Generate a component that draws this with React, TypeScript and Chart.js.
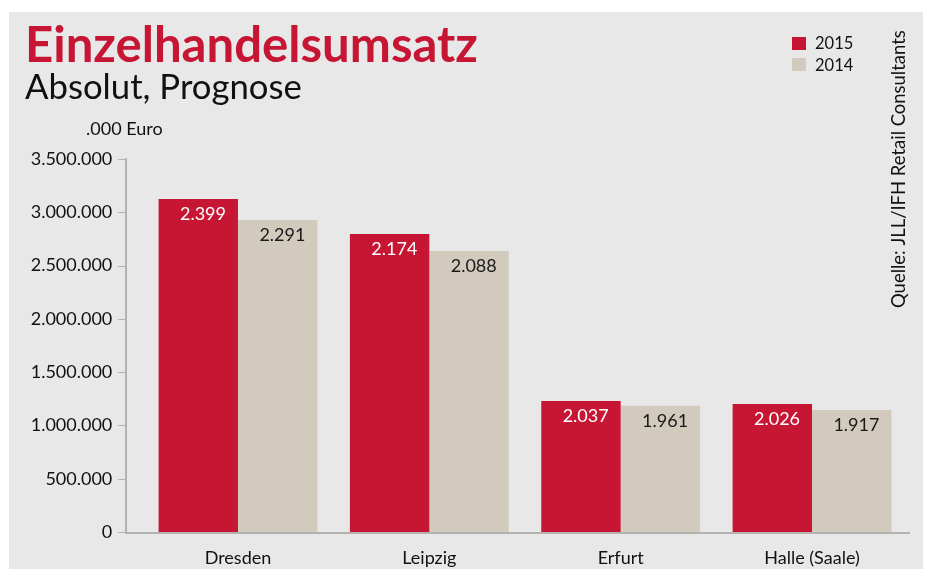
import React, { useEffect, useRef } from "react";
import { Chart, registerables } from "chart.js";

Chart.register(...registerables);

const categories = ["Dresden", "Leipzig", "Erfurt", "Halle (Saale)"];
const series2015 = [3125000, 2796000, 1229000, 1201000];
const series2014 = [2928000, 2637000, 1185000, 1145000];
const labels2015 = ["2.399", "2.174", "2.037", "2.026"];
const labels2014 = ["2.291", "2.088", "1.961", "1.917"];
const yTicks = [0, 500000, 1000000, 1500000, 2000000, 2500000, 3000000, 3500000];

const TITLE = "Einzelhandelsumsatz";
const SUBTITLE = "Absolut, Prognose";
const UNIT = ".000 Euro";
const SOURCE = "Quelle: JLL/IFH Retail Consultants";

const RED = "#C71534";
const BEIGE = "#D1CABD";
const BG = "#E8E8E8";
const AXIS = "#B2B2B2";
const FONT = "Lato";

function fmt(v: number): string {
  return String(v).replace(/\B(?=(\d{3})+(?!\d))/g, ".");
}

function fitFont(ctx: CanvasRenderingContext2D, text: string, weight: string, width: number) {
  ctx.font = `${weight} 100px ${FONT}`;
  const w = ctx.measureText(text).width;
  return (100 * width) / w;
}

const decorPlugin = {
  id: "decor",
  afterDraw(chart: any) {
    const ctx: CanvasRenderingContext2D = chart.ctx;
    const area = chart.chartArea;
    const y = chart.scales.y;
    ctx.save();
    // axes
    ctx.strokeStyle = AXIS;
    ctx.lineWidth = 2;
    ctx.beginPath();
    ctx.moveTo(117, y.getPixelForValue(3500000) - 1);
    ctx.lineTo(117, area.bottom + 2);
    ctx.stroke();
    ctx.beginPath();
    ctx.moveTo(116, area.bottom + 1);
    ctx.lineTo(901, area.bottom + 1);
    ctx.stroke();
    ctx.lineWidth = 1;
    yTicks.forEach((t) => {
      const py = Math.round(y.getPixelForValue(t)) + 0.5;
      ctx.beginPath();
      ctx.moveTo(109, py);
      ctx.lineTo(117, py);
      ctx.stroke();
    });

    // data labels
    ctx.font = `18px ${FONT}`;
    ctx.textAlign = "right";
    ctx.textBaseline = "alphabetic";
    const sets = [
      { idx: 0, labels: labels2015, color: "#FFFFFF" },
      { idx: 1, labels: labels2014, color: "#1A1A1A" },
    ];
    sets.forEach((s) => {
      const meta = chart.getDatasetMeta(s.idx);
      meta.data.forEach((bar: any, i: number) => {
        const right = bar.x + bar.width / 2;
        ctx.fillStyle = s.color;
        ctx.fillText(s.labels[i], right - 12, bar.y + 21);
      });
    });

    // title and subtitle
    ctx.textAlign = "left";
    ctx.fillStyle = RED;
    let fs = fitFont(ctx, TITLE, "bold", 453);
    ctx.font = `bold ${fs}px ${FONT}`;
    ctx.fillText(TITLE, 16, 50);
    ctx.fillStyle = "#111111";
    fs = fitFont(ctx, SUBTITLE, "normal", 277);
    ctx.font = `normal ${fs}px ${FONT}`;
    ctx.fillText(SUBTITLE, 16, 87);
    ctx.font = `18px ${FONT}`;
    ctx.fillStyle = "#111111";
    ctx.fillText(UNIT, 77, 123);

    // legend
    const legend = [
      { label: "2015", color: RED, top: 25, base: 37 },
      { label: "2014", color: BEIGE, top: 46, base: 59 },
    ];
    ctx.font = `16.5px ${FONT}`;
    legend.forEach((l) => {
      ctx.fillStyle = l.color;
      ctx.fillRect(783, l.top, 14, 13);
      ctx.fillStyle = "#111111";
      ctx.fillText(l.label, 806, l.base);
    });

    // source
    fs = fitFont(ctx, SOURCE, "normal", 278);
    ctx.font = `normal ${fs}px ${FONT}`;
    ctx.translate(896, 296);
    ctx.rotate(-Math.PI / 2);
    ctx.fillStyle = "#111111";
    ctx.fillText(SOURCE, 0, 0);
    ctx.restore();
  },
};

export default function App() {
  const ref = useRef<HTMLCanvasElement>(null);
  useEffect(() => {
    if (!ref.current) return;
    const chart = new Chart(ref.current, {
      type: "bar",
      data: {
        labels: categories,
        datasets: [
          { label: "2015", data: series2015, backgroundColor: RED, borderWidth: 0 },
          { label: "2014", data: series2014, backgroundColor: BEIGE, borderWidth: 0 },
        ],
      },
      options: {
        animation: false,
        responsive: false,
        maintainAspectRatio: false,
        layout: { padding: { top: 147, right: 15.3, left: 0, bottom: 0 } },
        datasets: { bar: { categoryPercentage: 0.83, barPercentage: 1.0 } },
        plugins: {
          legend: { display: false },
          title: { display: false },
          tooltip: { enabled: false },
        },
        scales: {
          x: {
            grid: { display: false, drawTicks: false, tickLength: 0 },
            border: { display: false },
            ticks: { color: "#111111", font: { family: FONT, size: 18 }, padding: 15 },
            afterFit: (s: any) => {
              s.height = 37;
            },
          },
          y: {
            min: 0,
            max: 3500000,
            grid: { display: false, drawTicks: false, tickLength: 0 },
            border: { display: false },
            afterBuildTicks: (s: any) => {
              s.ticks = yTicks.map((v) => ({ value: v }));
            },
            ticks: {
              color: "#111111",
              font: { family: FONT, size: 18 },
              padding: 30,
              callback: (v: any) => fmt(Number(v)),
            },
            afterFit: (s: any) => {
              s.width = 133.3;
              s.paddingTop = 0;
              s.paddingBottom = 0;
            },
          },
        },
      },
      plugins: [decorPlugin],
    });
    return () => chart.destroy();
  }, []);
  return (
    <div
      style={{
        position: "absolute",
        left: 9,
        top: 12,
        width: 914,
        height: 557,
        background: BG,
      }}
    >
      <canvas ref={ref} width={914} height={557} style={{ width: 914, height: 557, display: "block" }} />
    </div>
  );
}
